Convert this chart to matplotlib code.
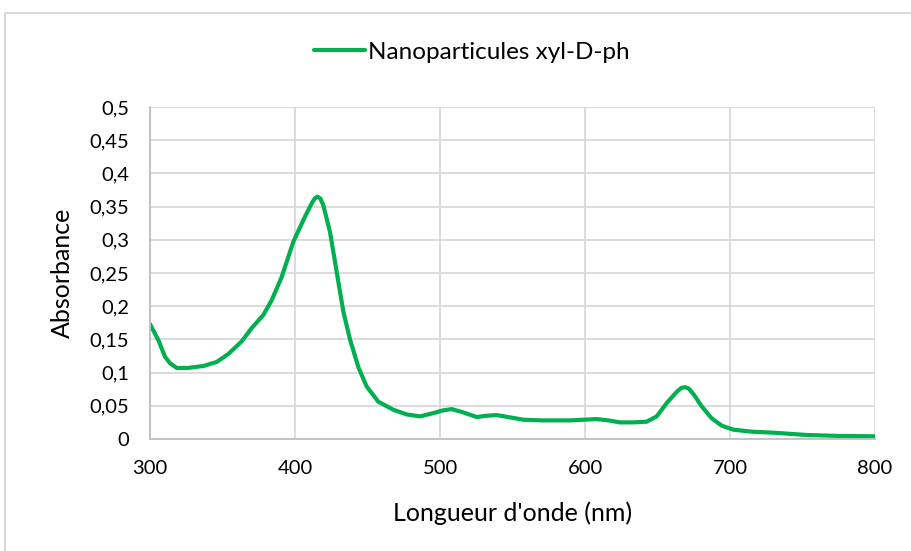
import matplotlib
matplotlib.use("Agg")
import matplotlib.pyplot as plt
from matplotlib.patches import Rectangle
from matplotlib.ticker import FuncFormatter, MultipleLocator

# Spectre UV-visible des nanoparticules
wavelength = [300, 305.7, 310.3, 313.8, 318.4, 326.4, 336.8, 346, 354, 363.2, 370.1,
              378.2, 383.9, 390.8, 398.8, 406.9, 411.5, 413.5, 415.5, 417.5, 419.5,
              424.1, 428.7, 433.3, 437.9, 443.7, 449.4, 457.5, 467.8, 477, 486.2,
              495.4, 502, 508, 516, 525.3, 532, 539, 547, 557.5, 570, 580.5, 590,
              598.9, 608, 616, 624.1, 633, 642.5, 649.4, 656.3, 663.2, 666.5, 669,
              671.5, 675, 680.5, 687.4, 694.3, 702.3, 715, 729.9, 752.9, 775.9, 800]
absorbance = [0.173, 0.149, 0.124, 0.114, 0.107, 0.107, 0.110, 0.116, 0.128, 0.147, 0.167,
              0.187, 0.209, 0.244, 0.297, 0.335, 0.355, 0.362, 0.365, 0.362, 0.352,
              0.312, 0.252, 0.192, 0.150, 0.108, 0.079, 0.056, 0.044, 0.037, 0.034,
              0.039, 0.043, 0.045, 0.040, 0.033, 0.035, 0.036, 0.033, 0.029, 0.028, 0.028,
              0.028, 0.029, 0.030, 0.028, 0.025, 0.025, 0.026, 0.034, 0.054, 0.071,
              0.077, 0.078, 0.076, 0.067, 0.049, 0.031, 0.020, 0.014, 0.011, 0.0095,
              0.006, 0.0045, 0.004]

plt.rcParams["font.family"] = ["Lato", "DejaVu Sans"]

fig = plt.figure(figsize=(9.11, 5.51), dpi=100)
ax = fig.add_axes([0.1647, 0.2033, 0.7958, 0.6025])

ax.plot(wavelength, absorbance, color="#00B050", lw=3, solid_capstyle="round",
        solid_joinstyle="round", label="Nanoparticules xyl-D-ph")

ax.set_xlim(300, 800)
ax.set_ylim(0, 0.5)
ax.xaxis.set_major_locator(MultipleLocator(100))
ax.yaxis.set_major_locator(MultipleLocator(0.05))
ax.yaxis.set_major_formatter(FuncFormatter(
    lambda v, p: "0" if abs(v) < 1e-9 else f"{v:.2f}".rstrip("0").replace(".", ",")))

ax.grid(True, color="#d9d9d9", lw=1.3)
ax.set_axisbelow(True)
for s in ["top", "right"]:
    ax.spines[s].set_visible(False)
for s in ["left", "bottom"]:
    ax.spines[s].set_color("#bfbfbf")
    ax.spines[s].set_linewidth(1.3)
ax.tick_params(length=0, labelsize=14.5, colors="#000000", pad=15)
ax.tick_params(axis="x", pad=15)

ax.set_xlabel("Longueur d'onde (nm)", fontsize=18, labelpad=18)
ax.set_ylabel("Absorbance", fontsize=18, labelpad=11)

fig.legend(loc="center", bbox_to_anchor=(0.518, 0.905), frameon=False,
           fontsize=17.5, handlelength=2.1, handletextpad=0.1)

# cadre de la zone graphique
fig.patches.append(Rectangle((5 / 911, -0.02), 1.05, 0.996, transform=fig.transFigure,
                             fill=False, edgecolor="#d9d9d9", lw=1.5))

fig.savefig("out.png", dpi=100)
